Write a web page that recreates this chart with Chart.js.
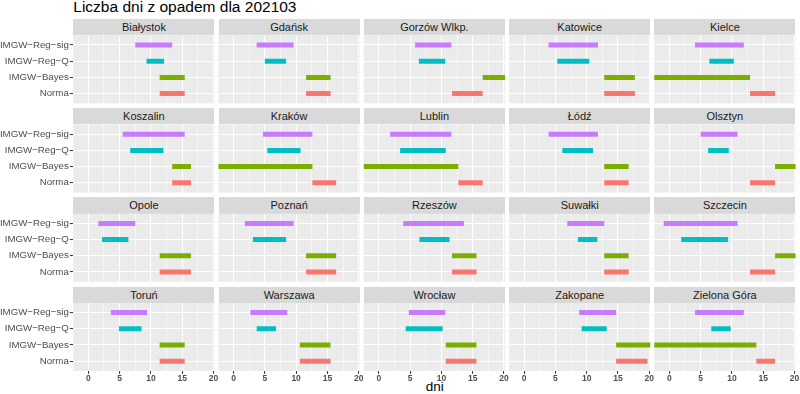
<!DOCTYPE html>
<html><head><meta charset="utf-8">
<script src="https://cdn.jsdelivr.net/npm/chart.js@4.4.1/dist/chart.umd.min.js"></script>
<style>
html,body{margin:0;padding:0;background:#fff;width:800px;height:394px;overflow:hidden;font-family:"Liberation Sans",Arial,sans-serif;}
#wrap{position:relative;width:800px;height:394px;}
#wrap canvas{position:absolute;left:0;top:0;}
.strip{position:absolute;background:#D9D9D9;color:#1A1A1A;font-size:11px;text-align:center;white-space:nowrap;overflow:hidden;}
#title{position:absolute;left:73.3px;top:-1.9px;font-size:15.5px;line-height:18px;color:#000;white-space:nowrap;}
#xlab{position:absolute;left:334.7px;width:200px;text-align:center;top:379.3px;font-size:13.5px;line-height:16px;color:#000;}
</style></head><body>
<div id="wrap">
<div id="title">Liczba dni z opadem dla 202103</div>
<div id="xlab">dni</div>
</div>
<script>
const cities = ['Białystok','Gdańsk','Gorzów Wlkp.','Katowice','Kielce','Koszalin','Kraków','Lublin','Łódź','Olsztyn','Opole','Poznań','Rzeszów','Suwałki','Szczecin','Toruń','Warszawa','Wrocław','Zakopane','Zielona Góra'];
const categories = ['Norma','IMGW−Bayes','IMGW−Reg−Q','IMGW−Reg−sig'];
const normaLo  = [11.4,11.6,11.7,12.8,12.9,13.4,12.6,12.7,12.8,12.9,11.4,11.6,11.7,12.8,12.9,11.4,10.6,10.7,14.7,13.9];
const normaHi  = [15.4,15.5,16.6,17.7,16.9,16.4,16.4,16.6,16.7,16.9,16.4,16.4,15.6,16.7,16.9,15.4,15.5,15.6,19.7,16.9];
const bayesLo  = [11.4,11.6,16.6,12.8,-3,13.4,-3,-3,12.8,16.9,11.4,11.6,11.7,12.8,16.9,11.4,10.6,10.7,14.7,-3];
const bayesHi  = [15.4,15.5,21,17.7,12.9,16.4,12.6,12.7,16.7,21,16.4,16.4,15.6,16.7,21,15.4,15.5,15.6,21,13.9];
const regQLo   = [9.3,5.0,6.4,5.3,6.4,6.7,5.4,3.4,6.1,6.2,2.2,3.1,6.5,8.6,1.9,4.9,3.7,4.3,9.2,6.7];
const regQHi   = [12.1,8.4,10.6,10.4,10.3,12.0,10.7,10.7,11.0,9.5,6.4,8.4,11.3,11.7,9.4,8.5,6.8,10.2,13.2,9.8];
const regSigLo = [7.5,3.7,5.8,3.9,4.1,5.5,4.7,1.8,3.9,5.0,1.6,1.8,3.9,6.9,-0.9,3.6,2.7,4.8,8.8,4.1];
const regSigHi = [13.4,9.6,11.6,11.8,11.9,15.4,12.6,11.6,11.8,10.9,7.5,9.6,13.6,12.8,10.9,9.4,8.6,10.6,14.7,11.9];
const xTicks = [0,5,10,15,20];
const colors = ['#F8766D','#7CAE00','#00BFC4','#C77CFF'];

const W = 800, H = 394;
const L = [73.3, 218.5, 363.8, 509.1, 654.3], PW = 141.2;
const S = [19, 108.2, 197.4, 286.6], SH = 16.3, PH = 68;
const XMIN = -2.4, XMAX = 20.16, XAXH = 14;
const FONT = '"Liberation Sans", Arial, sans-serif';

const allX = [];
for (let k = 0; k < xTicks.length; k++) {
  allX.push(xTicks[k]);
  if (k < xTicks.length - 1) allX.push((xTicks[k] + xTicks[k + 1]) / 2);
}

const bgPlugin = {
  id: 'panelBg',
  beforeDraw(chart) {
    const a = chart.chartArea, c = chart.ctx;
    c.save(); c.fillStyle = '#EBEBEB';
    c.fillRect(a.left, a.top, a.right - a.left, a.bottom - a.top);
    c.restore();
  }
};

const wrap = document.getElementById('wrap');
cities.forEach((city, i) => {
  const col = i % 5, row = Math.floor(i / 5);
  const left = L[col], top = S[row] + SH, bottom = top + PH, right = left + PW;
  const first = col === 0, last = row === 3;

  const d = document.createElement('div');
  d.className = 'strip';
  d.style.left = left + 'px'; d.style.top = S[row] + 'px';
  d.style.width = PW + 'px'; d.style.height = SH + 'px'; d.style.lineHeight = SH + 'px';
  d.textContent = city;
  wrap.appendChild(d);

  const cv = document.createElement('canvas');
  cv.width = W; cv.height = H; cv.style.width = W + 'px'; cv.style.height = H + 'px';
  wrap.appendChild(cv);

  const lows = [normaLo[i], bayesLo[i], regQLo[i], regSigLo[i]];
  const highs = [normaHi[i], bayesHi[i], regQHi[i], regSigHi[i]];

  new Chart(cv, {
    type: 'bar',
    plugins: [bgPlugin],
    data: {
      datasets: [{
        data: categories.map((c, k) => ({ y: k + 1, x: [lows[k], highs[k]] })),
        backgroundColor: colors,
        barThickness: 5,
        borderWidth: 0,
        inflateAmount: 0,
        clip: 0
      }]
    },
    options: {
      responsive: false, animation: false, events: [], indexAxis: 'y',
      plugins: { legend: { display: false }, tooltip: { enabled: false }, title: { display: false } },
      layout: { padding: { left: first ? 0 : left, right: W - right, top: top, bottom: last ? H - bottom - XAXH : H - bottom } },
      scales: {
        x: {
          type: 'linear', min: XMIN, max: XMAX, offset: false,
          afterBuildTicks: s => { s.ticks = allX.map(v => ({ value: v })); },
          afterFit: s => { s.height = last ? XAXH : 0; },
          border: { display: false },
          grid: {
            offset: false,
            color: '#FFFFFF',
            lineWidth: ctx => (ctx.tick && xTicks.includes(ctx.tick.value)) ? 1.1 : 0.55,
            drawTicks: last, tickLength: 3,
            tickColor: ctx => (ctx.tick && xTicks.includes(ctx.tick.value)) ? '#333333' : 'rgba(0,0,0,0)',
            tickWidth: 1
          },
          ticks: {
            display: last, autoSkip: false, maxRotation: 0, padding: 0,
            color: '#4D4D4D', font: { family: FONT, size: 8.5, weight: 'bold' },
            callback: v => xTicks.includes(v) ? String(v) : ''
          }
        },
        y: {
          type: 'linear', min: 0.4, max: 4.6, offset: false,
          afterBuildTicks: s => { s.ticks = categories.map((c, k) => ({ value: k + 1 })); },
          afterFit: s => { s.width = first ? left : 0; },
          border: { display: false },
          grid: { offset: false, color: '#FFFFFF', lineWidth: 1.1, drawTicks: first, tickLength: 3.5, tickColor: '#333333', tickWidth: 1 },
          ticks: {
            display: first, autoSkip: false, padding: 1,
            color: '#4D4D4D', font: { family: FONT, size: 9.7 },
            callback: v => categories[v - 1]
          }
        }
      }
    }
  });
});
</script>
</body></html>
